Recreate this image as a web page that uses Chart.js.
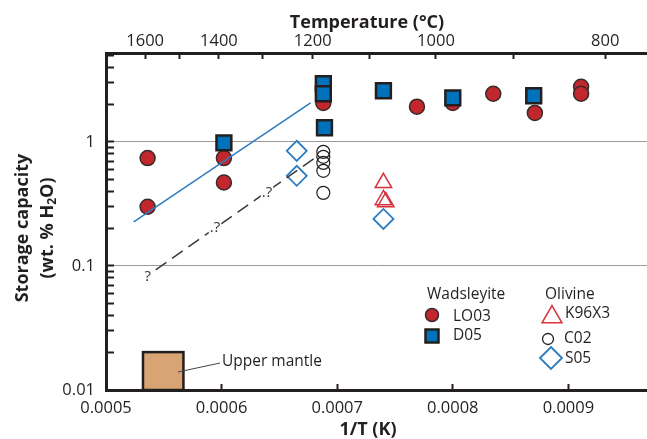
<!DOCTYPE html>
<html>
<head>
<meta charset="utf-8">
<script src="https://cdn.jsdelivr.net/npm/chart.js@4.4.1/dist/chart.umd.min.js"></script>
<style>
  html, body { margin: 0; padding: 0; background: #fff; }
  #wrap { width: 647px; height: 439px; }
</style>
</head>
<body>
<div id="wrap"><canvas id="chart" width="647" height="439"></canvas></div>
<script>
// ---- data (x = 1/T in 1/K, y = wt.% H2O) ----
const lo03X = [0.000536, 0.000536, 0.000602, 0.000602, 0.000688, 0.000769, 0.000800, 0.000835, 0.000871, 0.000911, 0.000911];
const lo03Y = [0.74, 0.30, 0.74, 0.47, 2.06, 1.92, 2.06, 2.44, 1.71, 2.78, 2.44];

const d05X = [0.000602, 0.000688, 0.000688, 0.000689, 0.000740, 0.000800, 0.000870];
const d05Y = [0.98, 2.94, 2.44, 1.30, 2.58, 2.26, 2.35];

const c02X = [0.000688, 0.000688, 0.000688, 0.000688, 0.000688];
const c02Y = [0.83, 0.757, 0.677, 0.584, 0.388];

const k96X = [0.000740, 0.000740, 0.000742];
const k96Y = [0.467, 0.34, 0.328];

const s05X = [0.000665, 0.000665, 0.000740];
const s05Y = [0.846, 0.532, 0.239];

const trendX = [0.000524, 0.000677];
const trendY = [0.226, 2.06];

const dashX = [0.000543, 0.000684];
const dashY = [0.093, 0.78];

const qX = [0.000536, 0.000596, 0.000641];
const qY = [0.0815, 0.2025, 0.388];
const qText = ['?', '.?', '.?'];

const mantleX = [0.000532, 0.000567];
const mantleY = [0.01, 0.0202];

// ---- axes ----
const xMin = 0.0005, xMax = 0.000968;
const xTicks = [0.0005, 0.0006, 0.0007, 0.0008, 0.0009];
const tempTicks = [1600, 1500, 1400, 1300, 1200, 1100, 1000, 900, 800];
const tempLabels = [1600, 1400, 1200, 1000, 800];
const yMin = 0.01, yMax = 5.2;
const yTickLabels = [0.01, 0.1, 1];

const FONT = '"Open Sans", "Noto Sans", sans-serif';
const INK = '#231f20';
Chart.defaults.font.family = FONT;
Chart.defaults.color = INK;

const pts = (xs, ys) => xs.map((x, i) => ({ x: x, y: ys[i] }));

// minor log ticks 1..9 per decade
const yTickValues = [];
[0.01, 0.1, 1].forEach(d => {
  for (let m = 1; m <= 9; m++) {
    const v = +(m * d).toPrecision(3);
    if (v <= yMax) yTickValues.push(v);
  }
});

function marker(ctx, style, x, y, r, fill, stroke, lw) {
  ctx.beginPath();
  if (style === 'circle') {
    ctx.arc(x, y, r, 0, Math.PI * 2);
  } else if (style === 'rect') {
    const s = r * Math.SQRT1_2;
    ctx.rect(x - s, y - s, 2 * s, 2 * s);
  } else if (style === 'triangle') {
    for (let k = 0; k < 3; k++) {
      const a = k * 2 * Math.PI / 3;
      const px = x + Math.sin(a) * r, py = y - Math.cos(a) * r;
      k ? ctx.lineTo(px, py) : ctx.moveTo(px, py);
    }
  } else if (style === 'rectRot') {
    ctx.moveTo(x - r, y); ctx.lineTo(x, y - r); ctx.lineTo(x + r, y); ctx.lineTo(x, y + r);
  }
  ctx.closePath();
  if (fill) { ctx.fillStyle = fill; ctx.fill(); }
  ctx.lineWidth = lw; ctx.strokeStyle = stroke; ctx.stroke();
}

const extras = {
  id: 'extras',
  beforeDatasetsDraw(chart) {
    const { ctx, scales: { x, y } } = chart;
    const x0 = x.getPixelForValue(mantleX[0]), x1 = x.getPixelForValue(mantleX[1]);
    const y0 = y.getPixelForValue(mantleY[0]), y1 = y.getPixelForValue(mantleY[1]);
    ctx.save();
    ctx.fillStyle = '#d8a474';
    ctx.fillRect(x0, y1, x1 - x0, y0 - y1);
    ctx.strokeStyle = INK; ctx.lineWidth = 2.5;
    ctx.strokeRect(x0, y1, x1 - x0, y0 - y1);
    // leader line to label
    ctx.lineWidth = 1; ctx.strokeStyle = '#444';
    ctx.beginPath(); ctx.moveTo(178, 372); ctx.lineTo(220, 363); ctx.stroke();
    ctx.fillStyle = INK; ctx.font = '15.5px ' + FONT;
    ctx.textBaseline = 'middle'; ctx.textAlign = 'left';
    ctx.fillText('Upper mantle', 222, 362);
    ctx.restore();
  },
  afterDatasetsDraw(chart) {
    const { ctx, scales: { x, y } } = chart;
    ctx.save();
    ctx.font = '15px ' + FONT;
    ctx.textBaseline = 'middle';
    qX.forEach((v, i) => {
      const px = x.getPixelForValue(v), py = y.getPixelForValue(qY[i]);
      const w = ctx.measureText(qText[i]).width;
      const hw = ctx.measureText('?').width / 2;
      ctx.fillStyle = '#fff';
      ctx.fillRect(px + hw - w - 1, py - 8, w + 2, 16);
      ctx.fillStyle = '#333'; ctx.textAlign = 'right';
      ctx.fillText(qText[i], px + hw, py);
    });
    ctx.restore();
  },
  afterDraw(chart) {
    const ctx = chart.ctx;
    ctx.save();
    ctx.fillStyle = INK;
    ctx.textBaseline = 'middle';
    ctx.textAlign = 'center';
    ctx.font = 'bold 18px ' + FONT;
    ctx.fillText('Temperature (\u00B0C)', 367, 23);
    ctx.fillText('1/T (K)', 368, 430);

    ctx.save();
    ctx.translate(23, 228); ctx.rotate(-Math.PI / 2);
    ctx.fillText('Storage capacity', 0, 0);
    ctx.restore();

    ctx.save();
    ctx.translate(48, 228); ctx.rotate(-Math.PI / 2);
    ctx.textAlign = 'left';
    const a = '(wt. % H', b = '2', c = 'O)';
    ctx.font = 'bold 18px ' + FONT; const wa = ctx.measureText(a).width, wc = ctx.measureText(c).width;
    ctx.font = 'bold 12px ' + FONT; const wb = ctx.measureText(b).width;
    let sx = -(wa + wb + wc) / 2;
    ctx.font = 'bold 18px ' + FONT; ctx.fillText(a, sx, 0); sx += wa;
    ctx.font = 'bold 12px ' + FONT; ctx.fillText(b, sx, 5); sx += wb;
    ctx.font = 'bold 18px ' + FONT; ctx.fillText(c, sx, 0);
    ctx.restore();

    // legend
    ctx.font = '15.5px ' + FONT;
    ctx.textAlign = 'left';
    ctx.fillStyle = INK;
    ctx.fillText('Wadsleyite', 427, 295);
    ctx.fillText('Olivine', 545, 295);
    marker(ctx, 'circle', 432, 315, 6.5, '#c1272d', '#3b2a2a', 1.5);
    marker(ctx, 'rect', 432, 336, 9.2, '#0072bc', INK, 2.5);
    marker(ctx, 'triangle', 552, 317, 11.5, null, '#d5333d', 1.5);
    marker(ctx, 'circle', 548, 339, 5.5, null, INK, 1.3);
    marker(ctx, 'rectRot', 551, 358, 11, null, '#2b7bc1', 1.8);
    ctx.fillStyle = INK;
    ctx.fillText('LO03', 453, 317);
    ctx.fillText('D05', 453, 336);
    ctx.fillText('K96X3', 565, 314);
    ctx.fillText('C02', 564, 339);
    ctx.fillText('S05', 565, 359);
    ctx.restore();
  }
};

const tickFont = { size: 16.5, family: FONT };

new Chart(document.getElementById('chart'), {
  type: 'scatter',
  data: {
    datasets: [
      { label: 'trend', type: 'line', data: pts(trendX, trendY), borderColor: '#2b7bc1', borderWidth: 1.5,
        pointRadius: 0, fill: false, order: 0 },
      { label: 'dashed', type: 'line', data: pts(dashX, dashY), borderColor: '#3a3a3a', borderWidth: 1.5,
        borderDash: [13, 7], pointRadius: 0, fill: false, order: 1 },
      { label: 'D05', data: pts(d05X, d05Y), pointStyle: 'rect', pointRadius: 10.5,
        backgroundColor: '#0072bc', borderColor: INK, borderWidth: 2.5, order: 2 },
      { label: 'LO03', data: pts(lo03X, lo03Y), pointStyle: 'circle', pointRadius: 7.5,
        backgroundColor: '#c1272d', borderColor: '#3b2a2a', borderWidth: 1.5, order: 3 },
      { label: 'S05', data: pts(s05X, s05Y), pointStyle: 'rectRot', pointRadius: 10,
        backgroundColor: 'rgba(0,0,0,0)', borderColor: '#2b7bc1', borderWidth: 1.8, order: 4 },
      { label: 'K96X3', data: pts(k96X, k96Y), pointStyle: 'triangle', pointRadius: 9.5,
        backgroundColor: 'rgba(0,0,0,0)', borderColor: '#d5333d', borderWidth: 1.5, order: 5 },
      { label: 'C02', data: pts(c02X, c02Y), pointStyle: 'circle', pointRadius: 6.5,
        backgroundColor: 'rgba(0,0,0,0)', borderColor: INK, borderWidth: 1.2, order: 6 }
    ]
  },
  options: {
    responsive: false,
    animation: false,
    devicePixelRatio: 1,
    // no auto padding for point overflow: plot runs to the right edge
    layout: { padding: 0, autoPadding: false },
    plugins: { legend: { display: false }, tooltip: { enabled: false } },
    scales: {
      x: {
        type: 'linear', position: 'bottom', min: xMin, max: xMax,
        afterBuildTicks: s => { s.ticks = xTicks.map(v => ({ value: v })); },
        afterFit: s => { s.height = 49; s.paddingLeft = 0; s.paddingRight = 0; },
        ticks: { autoSkip: false, maxRotation: 0, padding: 14, font: tickFont, color: INK,
          callback: v => v.toFixed(4) },
        grid: { drawOnChartArea: false, tickLength: -6, tickColor: INK, tickWidth: 2 },
        border: { color: INK, width: 3 }
      },
      x2: {
        type: 'linear', position: 'top', min: xMin, max: xMax,
        afterBuildTicks: s => { s.ticks = tempTicks.map(t => ({ value: 1 / (t + 273.15) })); },
        afterFit: s => { s.height = 53; s.paddingLeft = 0; s.paddingRight = 0; },
        ticks: { autoSkip: false, maxRotation: 0, padding: 8, font: tickFont, color: INK,
          callback: (v, i) => tempLabels.includes(tempTicks[i]) ? String(tempTicks[i]) : '' },
        grid: { drawOnChartArea: false, tickLength: -6, tickColor: INK, tickWidth: 2 },
        border: { color: INK, width: 3 }
      },
      y: {
        type: 'logarithmic', position: 'left', min: yMin, max: yMax,
        afterBuildTicks: s => { s.ticks = yTickValues.map(v => ({ value: v })); },
        afterFit: s => { s.width = 106; s.paddingTop = 0; s.paddingBottom = 0; },
        ticks: { autoSkip: false, padding: 19, font: tickFont, color: INK,
          callback: v => yTickLabels.some(l => Math.abs(l - v) < 1e-9) ? String(v) : '' },
        grid: {
          color: c => (c.tick && (Math.abs(c.tick.value - 1) < 1e-9 || Math.abs(c.tick.value - 0.1) < 1e-9)) ? '#9a9a9a' : 'rgba(0,0,0,0)',
          lineWidth: 1, tickLength: -8, tickColor: INK, tickWidth: 2
        },
        border: { color: INK, width: 3 }
      }
    }
  },
  plugins: [extras]
});
</script>
</body>
</html>
